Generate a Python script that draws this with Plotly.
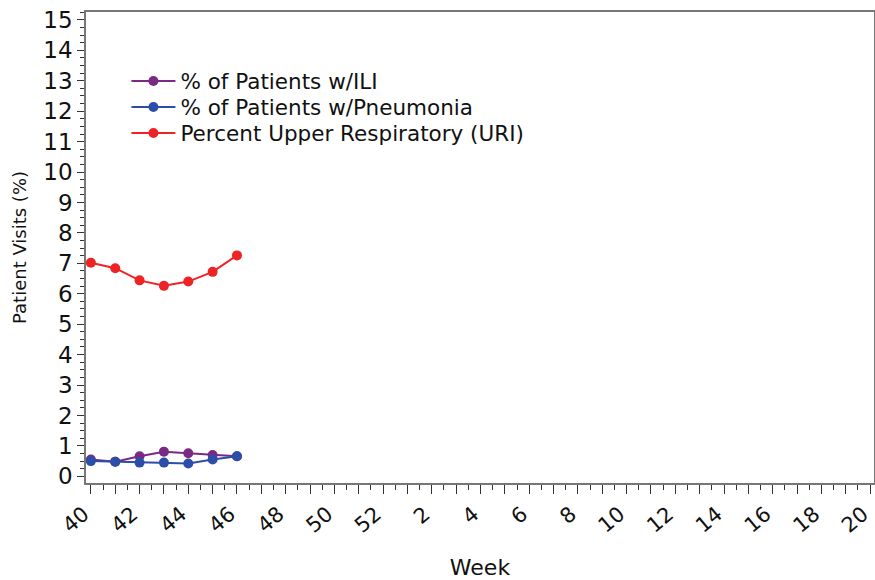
import plotly.graph_objects as go

# Season weeks (categories along the x axis)
weeks = [40, 41, 42, 43, 44, 45, 46, 47, 48, 49, 50, 51, 52,
         1, 2, 3, 4, 5, 6, 7, 8, 9, 10, 11, 12, 13, 14, 15, 16, 17, 18, 19, 20]
# Reported weeks so far
reported_weeks = [40, 41, 42, 43, 44, 45, 46]
ili = [0.55, 0.48, 0.66, 0.81, 0.76, 0.70, 0.66]
pneumonia = [0.50, 0.48, 0.45, 0.45, 0.42, 0.55, 0.66]
uri = [7.02, 6.84, 6.44, 6.26, 6.40, 6.72, 7.26]

y_ticks = list(range(0, 16))

idx = {w: i for i, w in enumerate(weeks)}
xr = [idx[w] for w in reported_weeks]
tickvals = list(range(len(weeks)))
ticktext = [str(w) if i % 2 == 0 else "" for i, w in enumerate(weeks)]

FONT = "DejaVu Sans, Arial, sans-serif"

series = [
    ("% of Patients w/ILI", ili, "#7A2A82", "legend"),
    ("% of Patients w/Pneumonia", pneumonia, "#2C4EA8", "legend2"),
    ("Percent Upper Respiratory (URI)", uri, "#EE2326", "legend3"),
]

fig = go.Figure()
for name, vals, col, lg in series:
    fig.add_trace(go.Scatter(
        x=xr, y=vals, name=name, mode="lines+markers",
        line=dict(color=col, width=2),
        marker=dict(color=col, size=10, symbol="circle"),
        legend=lg,
    ))

def legend_box(yc):
    return dict(
        x=0.0513, y=yc, xanchor="left", yanchor="middle",
        bgcolor="rgba(0,0,0,0)", borderwidth=0,
        font=dict(family=FONT, size=21.5, color="#111111"),
        itemwidth=44,
    )

fig.update_layout(
    width=875, height=580, autosize=False,
    margin=dict(l=86, r=1, t=12, b=97),
    paper_bgcolor="white", plot_bgcolor="white",
    font=dict(family=FONT, color="#111111"),
    showlegend=True,
    legend=legend_box(0.8535),
    legend2=legend_box(0.7983),
    legend3=legend_box(0.7431),
)

fig.update_xaxes(
    range=[-0.2, 32.16], automargin=False, ticklabeloverflow="allow",
    tickmode="array", tickvals=tickvals, ticktext=ticktext,
    tickangle=-40, tickfont=dict(family=FONT, size=21, color="#111111"),
    ticklabelshift=-7,
    ticks="outside", ticklen=9, tickcolor="#333333", tickwidth=1,
    minor=dict(dtick=0.5, tick0=0, ticks="outside", ticklen=5, tickcolor="#333333"),
    showgrid=False, zeroline=False,
    showline=True, linecolor="#777777", linewidth=1.5, mirror=True,
    title=dict(text="Week", font=dict(family=FONT, size=22, color="#111111"), standoff=30),
)

fig.update_yaxes(
    range=[-0.22, 15.26], automargin=False,
    tickmode="array", tickvals=y_ticks, ticktext=[str(v) for v in y_ticks],
    tickfont=dict(family=FONT, size=23, color="#111111"),
    ticks="outside", ticklen=7, tickcolor="#333333", tickwidth=1,
    minor=dict(dtick=0.25, tick0=0, ticks="outside", ticklen=4, tickcolor="#333333"),
    showgrid=False, zeroline=False,
    showline=True, linecolor="#777777", linewidth=1.5, mirror=True,
    title=dict(text="Patient Visits (%)", font=dict(family=FONT, size=18, color="#111111"), standoff=12),
)

fig.write_html(
    "out.html",
    config={"responsive": False, "displayModeBar": False},
    post_script="document.body.style.margin='0';document.body.style.overflow='hidden';",
)
